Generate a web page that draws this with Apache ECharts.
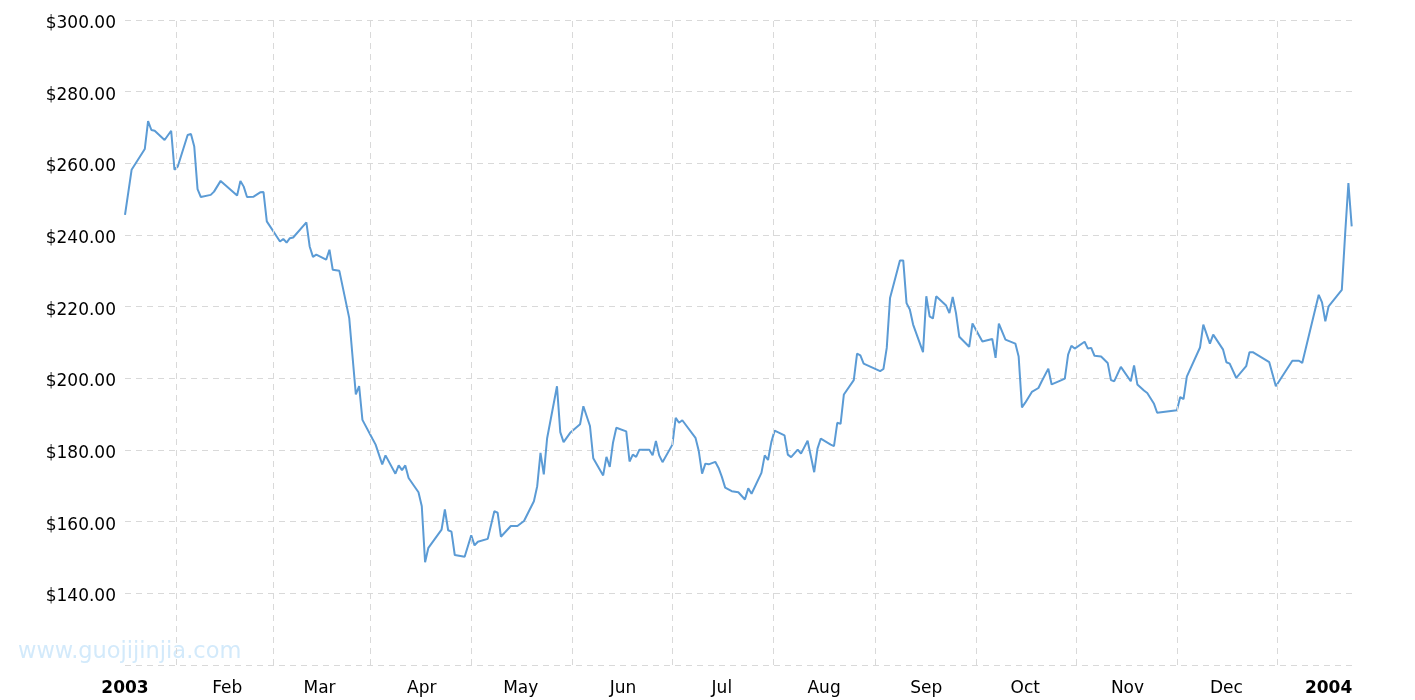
<!DOCTYPE html>
<html>
<head>
<meta charset="utf-8">
<script src="https://cdn.jsdelivr.net/npm/echarts@6/dist/echarts.min.js"></script>
<style>
  html, body { margin: 0; padding: 0; background: #fff; }
  #chart { width: 1415px; height: 700px; }
</style>
</head>
<body>
<div id="chart"></div>
<script>
// 日期
const dates = [
  '2003-01-01', '2003-01-03', '2003-01-07', '2003-01-08', '2003-01-09', '2003-01-10', '2003-01-13', '2003-01-15',
  '2003-01-16', '2003-01-17', '2003-01-20', '2003-01-21', '2003-01-22', '2003-01-23', '2003-01-24', '2003-01-27',
  '2003-01-28', '2003-01-30',
  '2003-02-04', '2003-02-05', '2003-02-06', '2003-02-07', '2003-02-09', '2003-02-11', '2003-02-12', '2003-02-13',
  '2003-02-17', '2003-02-18', '2003-02-19', '2003-02-20', '2003-02-21', '2003-02-25', '2003-02-26', '2003-02-27',
  '2003-02-28',
  '2003-03-03', '2003-03-04', '2003-03-05', '2003-03-07', '2003-03-10', '2003-03-11', '2003-03-12', '2003-03-13',
  '2003-03-14', '2003-03-17', '2003-03-18', '2003-03-20', '2003-03-21', '2003-03-24', '2003-03-25', '2003-03-26',
  '2003-03-27', '2003-03-28', '2003-03-31',
  '2003-04-01', '2003-04-02', '2003-04-03', '2003-04-07', '2003-04-08', '2003-04-09', '2003-04-10', '2003-04-11',
  '2003-04-14', '2003-04-16', '2003-04-17', '2003-04-18', '2003-04-21', '2003-04-23', '2003-04-24', '2003-04-25',
  '2003-04-28', '2003-04-30',
  '2003-05-02', '2003-05-05', '2003-05-06', '2003-05-07', '2003-05-08', '2003-05-09', '2003-05-12', '2003-05-13',
  '2003-05-14', '2003-05-16', '2003-05-19', '2003-05-20', '2003-05-22', '2003-05-23', '2003-05-26', '2003-05-27',
  '2003-05-28', '2003-05-29', '2003-05-30',
  '2003-06-02', '2003-06-03', '2003-06-04', '2003-06-05', '2003-06-06', '2003-06-09', '2003-06-10', '2003-06-11',
  '2003-06-12', '2003-06-13', '2003-06-16', '2003-06-17', '2003-06-18', '2003-06-19', '2003-06-23', '2003-06-24',
  '2003-06-25', '2003-06-26', '2003-06-27', '2003-06-29', '2003-06-30',
  '2003-07-01', '2003-07-02', '2003-07-04', '2003-07-06', '2003-07-08', '2003-07-09', '2003-07-10', '2003-07-13',
  '2003-07-14', '2003-07-15', '2003-07-16', '2003-07-17', '2003-07-20', '2003-07-21', '2003-07-22', '2003-07-24',
  '2003-07-25', '2003-07-27', '2003-07-29', '2003-07-30', '2003-07-31',
  '2003-08-03', '2003-08-04', '2003-08-05', '2003-08-06', '2003-08-07', '2003-08-10', '2003-08-11', '2003-08-12',
  '2003-08-13', '2003-08-18', '2003-08-19', '2003-08-20', '2003-08-21', '2003-08-24', '2003-08-25', '2003-08-26',
  '2003-08-27', '2003-08-28', '2003-08-31',
  '2003-09-01', '2003-09-02', '2003-09-03', '2003-09-04', '2003-09-07', '2003-09-08', '2003-09-09', '2003-09-10',
  '2003-09-11', '2003-09-14', '2003-09-15', '2003-09-18', '2003-09-21', '2003-09-22', '2003-09-23', '2003-09-25',
  '2003-09-28', '2003-09-29', '2003-09-30',
  '2003-10-01', '2003-10-03', '2003-10-05', '2003-10-06', '2003-10-08', '2003-10-09', '2003-10-12', '2003-10-13',
  '2003-10-14', '2003-10-15', '2003-10-16', '2003-10-19', '2003-10-20', '2003-10-21', '2003-10-22', '2003-10-24',
  '2003-10-26', '2003-10-27', '2003-10-28', '2003-10-30',
  '2003-11-02', '2003-11-03', '2003-11-04', '2003-11-06', '2003-11-07', '2003-11-09', '2003-11-10', '2003-11-16',
  '2003-11-17', '2003-11-18', '2003-11-19', '2003-11-23', '2003-11-24', '2003-11-26', '2003-11-27', '2003-11-30',
  '2003-12-01', '2003-12-02', '2003-12-04', '2003-12-07', '2003-12-08', '2003-12-09', '2003-12-14', '2003-12-16',
  '2003-12-21', '2003-12-23', '2003-12-24', '2003-12-29', '2003-12-30', '2003-12-31',
  '2004-01-01', '2004-01-05', '2004-01-06', '2004-01-07', '2004-01-08'
];

// 价格 (美元)
const prices = [
  245.6, 258.2, 264.0, 271.8, 269.3, 269.1, 266.5, 269.1,
  258.2, 259.1, 267.9, 268.2, 264.7, 252.8, 250.6, 251.2,
  252.1, 255.1,
  251.0, 255.1, 253.5, 250.6, 250.7, 251.9, 252.0, 243.8,
  238.2, 238.9, 237.9, 239.1, 239.3, 243.5, 236.8, 233.9,
  234.5,
  233.1, 235.9, 230.3, 230.0, 216.8, 206.1, 195.5, 197.8,
  188.4, 183.2, 181.5, 176.0, 178.5, 173.4, 175.7, 174.4,
  175.7, 172.2, 168.2,
  164.3, 148.7, 152.7, 157.8, 163.4, 157.6, 157.2, 150.7,
  150.2, 156.2, 153.4, 154.4, 155.2, 162.9, 162.5, 155.8,
  158.8, 158.8,
  160.2, 165.7, 169.9, 179.2, 173.2, 183.2, 197.8, 185.0,
  182.2, 184.8, 187.2, 192.2, 186.7, 177.7, 172.9, 178.1,
  175.3, 182.1, 186.2,
  185.2, 176.8, 178.7, 178.1, 180.1, 180.1, 178.5, 182.5,
  178.5, 176.6, 181.5, 189.0, 187.6, 188.3, 183.4, 179.7,
  173.4, 176.2, 176.0, 176.7, 175.0,
  172.5, 169.5, 168.5, 168.2, 166.2, 169.3, 167.8, 173.6,
  178.5, 177.2, 182.2, 185.4, 184.1, 178.7, 178.0, 180.1,
  179.0, 182.6, 173.8, 180.4, 183.2,
  181.5, 181.1, 187.6, 187.3, 195.5, 199.5, 206.9, 206.4,
  204.1, 202.0, 202.6, 208.5, 222.4, 232.9, 232.9, 221.0,
  219.2, 215.0, 207.3,
  222.9, 217.3, 216.7, 222.9, 220.3, 218.2, 222.7, 218.2,
  211.6, 208.8, 215.3, 210.3, 211.0, 205.7, 215.3, 210.8,
  209.7, 206.1, 191.9,
  193.2, 196.2, 197.3, 199.2, 202.7, 198.3, 199.5, 199.9,
  206.6, 209.1, 208.3, 210.2, 208.3, 208.5, 206.3, 206.1,
  204.3, 199.5, 199.2, 203.2,
  199.2, 203.6, 198.3, 196.6, 195.9, 193.0, 190.4, 191.1,
  194.8, 194.2, 200.5, 208.6, 215.0, 209.7, 212.2, 208.0,
  204.5, 204.1, 200.1, 203.4, 207.3, 207.3, 204.5, 197.8,
  204.9, 204.9, 204.3, 223.3, 221.2, 215.9,
  220.1, 224.7, 240.1, 254.5, 242.4
];

const monthNames = ['Jan', 'Feb', 'Mar', 'Apr', 'May', 'Jun', 'Jul', 'Aug', 'Sep', 'Oct', 'Nov', 'Dec'];
const axisStart = '2003-01-01';
const axisEnd = '2004-01-09';

// 竖向网格线在每月中间
const midMonthLines = [];
for (let m = 0; m < 12; m++) {
  const a = new Date(2003, m, 1).getTime();
  const b = new Date(2003, m + 1, 1).getTime();
  midMonthLines.push({ xAxis: (a + b) / 2 });
}

const font = 'DejaVu Sans, Verdana, sans-serif';
const gridLine = { color: '#d9d9d9', width: 1, type: [6, 5] };

const mycharts = echarts.init(document.getElementById('chart'));
mycharts.setOption({
  animation: false,
  grid: { left: 125, right: 60, top: 20, bottom: 35 },
  graphic: [
    {
      type: 'text',
      left: 18,
      top: 641,
      silent: true,
      style: {
        text: 'www.guojijinjia.com',
        fill: '#d3eafb',
        font: '22.5px ' + font
      }
    }
  ],
  xAxis: {
    type: 'time',
    min: axisStart,
    max: axisEnd,
    splitNumber: 12,
    minInterval: 28 * 86400000,
    maxInterval: 31 * 86400000,
    axisLine: { show: false },
    axisTick: { show: false },
    splitLine: { show: false },
    axisLabel: {
      color: '#000',
      fontFamily: font,
      fontSize: 17,
      margin: 15,
      formatter: function (value) {
        const d = new Date(value);
        if (d.getMonth() === 0) return '{y|' + d.getFullYear() + '}';
        return monthNames[d.getMonth()];
      },
      rich: {
        y: { fontWeight: 'bold', fontSize: 17, fontFamily: font, color: '#000' }
      }
    }
  },
  yAxis: {
    type: 'value',
    min: 120,
    max: 300,
    interval: 20,
    axisLine: { show: false },
    axisTick: { show: false },
    splitLine: { show: true, lineStyle: gridLine },
    axisLabel: {
      color: '#000',
      fontFamily: font,
      fontSize: 17,
      margin: 9,
      showMinLabel: false,
      formatter: function (v) { return '{p|$' + v.toFixed(2) + '}'; },
      rich: {
        p: { fontSize: 17, fontFamily: font, color: '#000', padding: [7, 0, 0, 0] }
      }
    }
  },
  series: [
    {
      type: 'line',
      data: dates.map((d, i) => [d, prices[i]]),
      showSymbol: false,
      symbol: 'none',
      lineStyle: { color: '#5b9bd5', width: 2 },
      itemStyle: { color: '#5b9bd5' },
      markLine: {
        silent: true,
        symbol: ['none', 'none'],
        label: { show: false },
        lineStyle: gridLine,
        data: midMonthLines
      }
    }
  ]
});
</script>
</body>
</html>
